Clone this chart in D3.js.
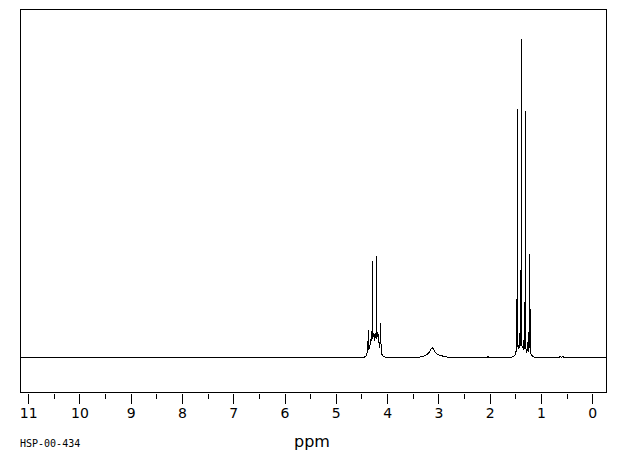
<!DOCTYPE html>
<html>
<head>
<meta charset="utf-8">
<script src="https://cdn.jsdelivr.net/npm/d3@7"></script>
<style>
  body { margin: 0; background: #fff; }
  svg { display: block; }
  text { fill: #000; }
</style>
</head>
<body>
<svg id="chart" width="620" height="455"></svg>
<script>
// spectrum trace: [ppm, relative intensity (tallest = 100)]
const spectrum = [
  [11.16, 0], [4.45, 0], [4.40, 0.5], [4.38, 2.2], [4.363, 8.5], [4.355, 2.5],
  [4.33, 4], [4.31, 6.4], [4.295, 5.5], [4.285, 30.2], [4.279, 6],
  [4.26, 7.5], [4.245, 5.5], [4.235, 7.5], [4.215, 6], [4.207, 31.8], [4.20, 6],
  [4.18, 8], [4.165, 5], [4.15, 4], [4.14, 3], [4.13, 10.7], [4.12, 4.4],
  [4.10, 1], [4.07, 0.3], [4.02, 0],
  [3.40, 0], [3.30, 0.3], [3.22, 0.8], [3.18, 1.6], [3.15, 2.6], [3.12, 3.2],
  [3.09, 2.6], [3.06, 1.6], [3.02, 0.9], [2.96, 0.5], [2.88, 0.3], [2.78, 0.15], [2.65, 0],
  [2.05, 0], [2.03, 0.4], [2.01, 0],
  [1.60, 0], [1.53, 0.4], [1.50, 1], [1.485, 2], [1.477, 15.7], [1.472, 3],
  [1.466, 5], [1.463, 78], [1.458, 4], [1.44, 3], [1.425, 4], [1.418, 7.5],
  [1.41, 3], [1.40, 5], [1.39, 27.4], [1.383, 10], [1.379, 100], [1.374, 4],
  [1.36, 3], [1.345, 3], [1.34, 5.3], [1.33, 2.5], [1.315, 8], [1.31, 17.3],
  [1.304, 8], [1.301, 77.5], [1.296, 3], [1.28, 2], [1.265, 2.5], [1.26, 4.7],
  [1.25, 2], [1.24, 3], [1.233, 7.9], [1.225, 3], [1.215, 32.4], [1.21, 2],
  [1.19, 1], [1.16, 0.3], [1.10, 0],
  [0.65, 0], [0.62, 0.4], [0.60, 0], [0.57, 0.3], [0.55, 0], [-0.27, 0]
];

const majorTicks = [11, 10, 9, 8, 7, 6, 5, 4, 3, 2, 1, 0];
const minorTicks = [10.5, 9.5, 8.5, 7.5, 6.5, 5.5, 4.5, 3.5, 2.5, 1.5, 0.5];
const xDomain = [11.16, -0.27];
const axisTitle = 'ppm';
const sampleId = 'HSP-00-434';

const svg = d3.select('#chart');
const frame = { left: 20, top: 9, right: 606, bottom: 392 };

const x = d3.scaleLinear().domain(xDomain).range([frame.left, frame.right]);
const y = d3.scaleLinear().domain([0, 100]).range([357, 39]);

svg.append('clipPath').attr('id', 'clip')
  .append('rect')
  .attr('x', frame.left).attr('y', frame.top)
  .attr('width', frame.right - frame.left).attr('height', frame.bottom - frame.top);

// spectrum
const line = d3.line().x(d => x(d[0])).y(d => Math.round(y(d[1])) + 0.5);
svg.append('path')
  .datum(spectrum)
  .attr('clip-path', 'url(#clip)')
  .attr('d', line)
  .attr('fill', 'none')
  .attr('stroke', '#000')
  .attr('stroke-width', 1)
  .attr('shape-rendering', 'crispEdges');

// frame
svg.append('rect')
  .attr('x', frame.left + 0.5).attr('y', frame.top + 0.5)
  .attr('width', frame.right - frame.left).attr('height', frame.bottom - frame.top)
  .attr('fill', 'none').attr('stroke', '#000')
  .attr('shape-rendering', 'crispEdges');

// axis: major ticks with labels, minor ticks without
const axisY = frame.bottom + 2;
const gMajor = svg.append('g')
  .attr('transform', `translate(0,${axisY})`)
  .call(d3.axisBottom(x).tickValues(majorTicks).tickSize(10).tickPadding(4)
    .tickFormat(d3.format('d')));
const gMinor = svg.append('g')
  .attr('transform', `translate(0,${axisY})`)
  .call(d3.axisBottom(x).tickValues(minorTicks).tickSize(5).tickFormat(''));

[gMajor, gMinor].forEach(g => {
  g.select('.domain').remove();
  g.selectAll('line').attr('stroke', '#000').attr('shape-rendering', 'crispEdges');
});
gMajor.selectAll('text')
  .attr('font-family', 'DejaVu Sans, sans-serif')
  .attr('font-size', 14)
  .attr('fill', '#000');

svg.append('text')
  .attr('x', 312).attr('y', 447)
  .attr('text-anchor', 'middle')
  .attr('font-family', 'DejaVu Sans, sans-serif')
  .attr('font-size', 16)
  .text(axisTitle);

svg.append('text')
  .attr('x', 20).attr('y', 447)
  .attr('font-family', 'DejaVu Sans Mono, monospace')
  .attr('font-size', 10)
  .text(sampleId);
</script>
</body>
</html>
